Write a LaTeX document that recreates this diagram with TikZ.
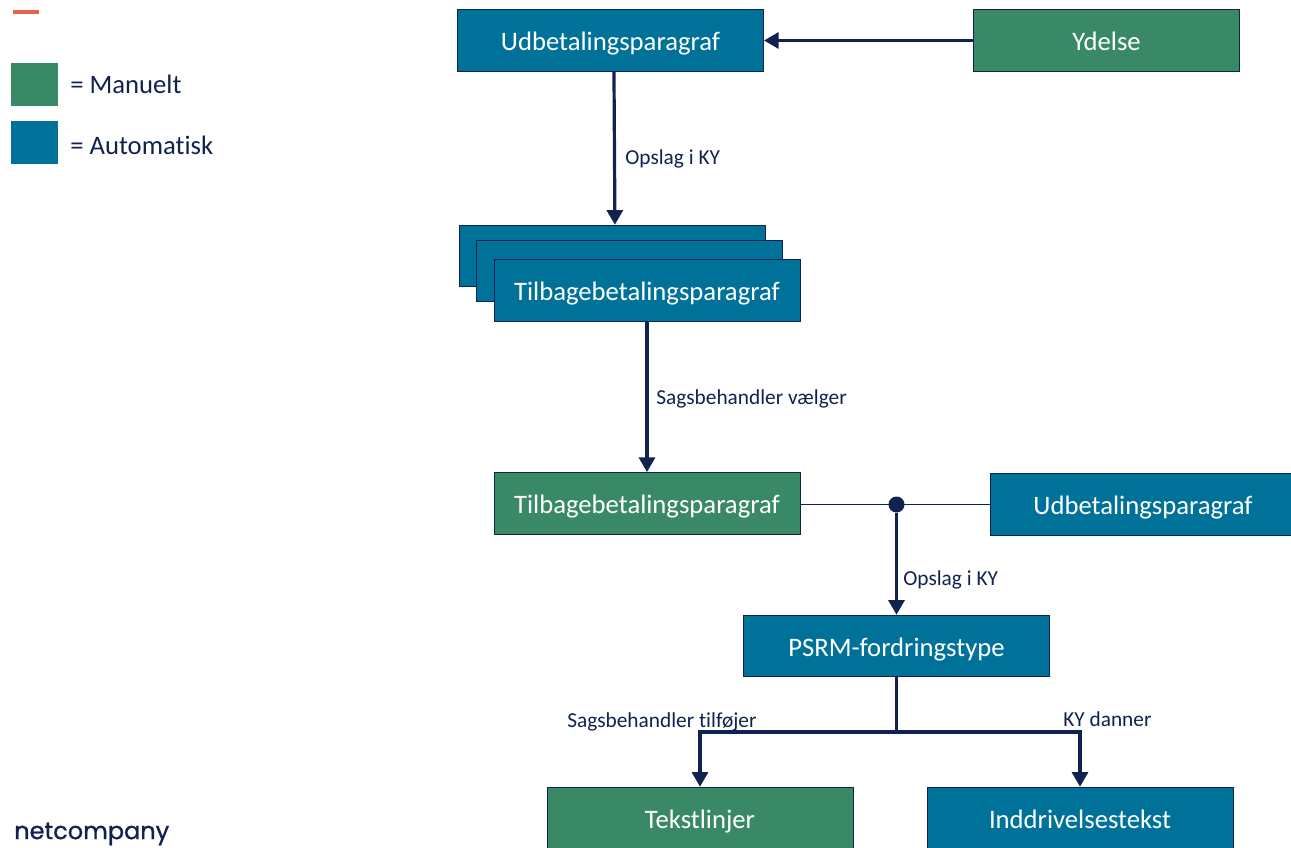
\documentclass[tikz,border=0pt]{standalone}
\usepackage{fontspec}
\setmainfont{Carlito}[Ligatures=NoCommon]
\newfontfamily\logofont{Poppins}[FakeBold=1]
\usepackage{xcolor}
\usetikzlibrary{arrows.meta}
\definecolor{navy}{HTML}{10224F}
\definecolor{manuel}{HTML}{3A8966}
\definecolor{autom}{HTML}{007299}
\definecolor{redbar}{HTML}{E8604F}
\tikzset{
	box/.style={draw=navy,line width=0.7pt,text=white,minimum width=229.5pt,minimum height=46.2pt,inner sep=0pt,text height=19pt,text depth=4pt,font=\fontsize{20}{22}\selectfont},
	boxauto/.style={box,fill=autom},
	boxmanu/.style={box,fill=manuel},
	swatch/.style={minimum width=35.2pt,minimum height=32pt,inner sep=0pt},
	lbl/.style={text=navy,anchor=west,inner sep=0pt,font=\fontsize{16}{18}\selectfont},
	legendlbl/.style={text=navy,anchor=west,inner sep=0pt,font=\fontsize{20}{22}\selectfont},
	pil/.style={draw=navy,line width=2.4pt,-{Triangle[width=12pt,length=11pt]}},
	streg/.style={draw=navy,line width=2.4pt},
	tynd/.style={draw=navy,line width=0.8pt}
}

\begin{document}
\begin{tikzpicture}[x=0.75pt,y=-0.75pt]
			\useasboundingbox (0,0) rectangle (1291,847);
			\begin{scope}
				\draw[redbar,line width=2.4pt] (13,12) -- (39,12);
				\node[swatch,fill=manuel] (SwManuel) at (34.5,84.5) {};
				\node[swatch,fill=autom] (SwAuto) at (34.5,142.5) {};
				\node[legendlbl] (LegManuel) at (70,84) {= Manuelt};
				\node[legendlbl] (LegAuto) at (70,145) {= Automatisk};
				\node[text=navy,anchor=west,inner sep=0pt,font=\logofont\fontsize{18}{20}\selectfont] (Logo) at (14,834) {netcompany};
			\end{scope}
			\begin{scope}
				\node[boxauto] (Udbet) at (610.5,40.5) {Udbetalingsparagraf};
				\node[boxmanu,minimum width=200pt] (Ydelse) at (1106.5,40.5) {Ydelse};
				\node[boxauto] (Stack1) at (612,256) {};
				\node[boxauto] (Stack2) at (629.5,271) {};
				\node[boxauto] (Stack3) at (647,290.5) {Tilbagebetalingsparagraf};
				\node[boxmanu] (Valgt) at (647,503.3) {Tilbagebetalingsparagraf};
				\node[boxauto] (Udbet2) at (1143,504.5) {Udbetalingsparagraf};
				\node[boxauto] (PSRM) at (896.5,646) {PSRM-fordringstype};
				\node[boxmanu] (Tekst) at (700,818) {Tekstlinjer};
				\node[boxauto] (Inddriv) at (1080,818) {Inddrivelsestekst};
				\node[circle,fill=navy,inner sep=0pt,minimum size=12pt] (Prik) at (896.5,504.5) {};
				\coordinate (Knude) at (896.5,732);
				%
				\draw[pil] (Ydelse.west) -- (Udbet.east);
				\draw[pil] ([xshift=2.6pt]Udbet.south) -- ([xshift=2.2pt]Stack1.north);
				\foreach \S/\E in {Stack3/Valgt, Prik/PSRM}
					\draw[pil] (\S) -- (\E);
				\foreach \S/\E in {Valgt.east/Prik, Prik/Udbet2.west}
					\draw[tynd] (\S |- Prik) -- (\E |- Prik);
				\draw[streg] (PSRM.south) -- (Knude);
				\foreach \E in {Tekst, Inddriv}
					\draw[pil] (Knude) -| (\E.north);
				%
				\node[lbl] (LblOpslagA) at (625,158.5) {Opslag i KY};
				\node[lbl] (LblVaelger) at (656,398.5) {Sagsbehandler vælger};
				\node[lbl] (LblOpslagB) at (903,579.5) {Opslag i KY};
				\node[lbl] (LblTilfoejer) at (567,721.5) {Sagsbehandler tilføjer};
				\node[lbl] (LblDanner) at (1063,719.5) {KY danner};
			\end{scope}
		\end{tikzpicture}
\end{document}
